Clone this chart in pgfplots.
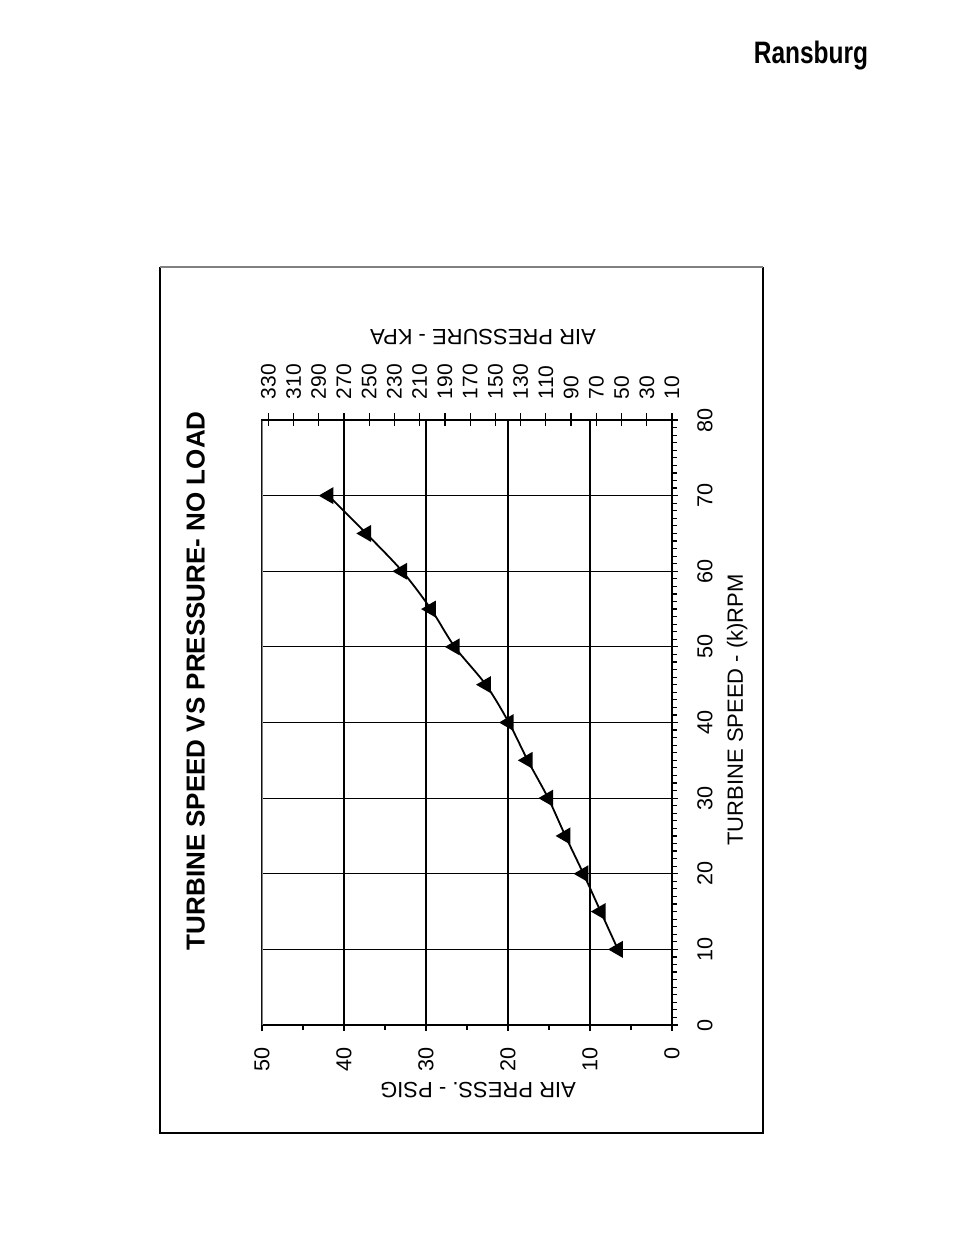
\documentclass[border=0pt]{standalone}
\usepackage{pgfplots}
\pgfplotsset{compat=1.18}
\usepackage{fontspec}
\setmainfont{Liberation Sans}
\usepackage{graphicx}

% picture coordinates are in points; 1pt = 2 pixels of the reference
\begin{document}
\begin{tikzpicture}
\path[use as bounding box] (0pt,0pt) rectangle (477pt,617.5pt);
% page frame round the chart
\draw[line width=1.1pt] (80pt,484pt) -- (80pt,51pt) -- (381.5pt,51pt) -- (381.5pt,484pt);
\draw[gray, line width=0.7pt] (80pt,484pt) -- (381.5pt,484pt);
\node[anchor=base] at (405.5pt,585.8pt) {\fontsize{15.5}{18}\selectfont\bfseries\scalebox{0.79}[1]{Ransburg}};

% main axis: air pressure (psig) across, turbine speed up
\begin{axis}[
    at={(131pt,105pt)}, anchor=south west,
    scale only axis, width=205pt, height=302.5pt,
    xmin=0, xmax=50, ymin=0, ymax=80,
    x dir=reverse,
    xtick={0,10,...,50}, minor xtick={5,15,...,45},
    ytick={0,10,...,80}, minor ytick={0,1,...,80},
    xtick pos=bottom, xticklabel pos=bottom,
    ytick pos=right, yticklabel pos=right,
    tick align=outside,
    major tick length=3pt, minor tick length=2.4pt,
    grid=major, grid style={black, line width=0.55pt},
    axis line style={line width=0.75pt},
    every tick/.style={black, line width=0.6pt},
    /pgf/number format/assume math mode=true,
    tick label style={font=\fontsize{10.8}{12}\selectfont, inner sep=0pt},
    xticklabel style={rotate=90, anchor=east},
    yticklabel style={rotate=90, anchor=north},
    xticklabel shift=8pt, yticklabel shift=9.5pt,
    xlabel={AIR PRESS. - PSIG},
    every axis x label/.style={at={(axis description cs:0.527,-0.107)}, rotate=180, anchor=center, font=\fontsize{11}{13}\selectfont},
    ylabel={TURBINE SPEED - (k)RPM},
    every axis y label/.style={at={(axis description cs:1.159,0.521)}, rotate=90, anchor=center, font=\fontsize{11}{13}\selectfont},
    title={TURBINE SPEED VS PRESSURE- NO LOAD},
    every axis title/.style={at={(axis description cs:-0.162,0.569)}, rotate=90, anchor=center, font=\fontsize{13}{15}\selectfont\bfseries},
    ]
    \addplot[black, line width=0.9pt, smooth, tension=0.5,
        mark=triangle*, mark size=4pt, mark options={rotate=90, solid, fill=black}]
    coordinates {
    (6.6,10) (8.7,15) (10.8,20) (13.0,25) (15.1,30) (17.6,35) (19.9,40)
    (22.7,45) (26.5,50) (29.4,55) (32.9,60) (37.3,65) (41.9,70)
    };
    \draw[gray, line width=0.9pt] (axis cs:50,0) -- (axis cs:50,80);
\end{axis}

% secondary scale: air pressure in kPa along the top
\begin{axis}[
    at={(131pt,105pt)}, anchor=south west,
    scale only axis, width=205pt, height=302.5pt,
    xmin=10, xmax=335, ymin=0, ymax=1,
    x dir=reverse,
    axis x line*=top, axis y line=none,
    xtick={10,30,...,330},
    tick align=center, major tick length=6.5pt,
    axis line style={line width=0.75pt},
    every tick/.style={black, line width=0.6pt},
    /pgf/number format/assume math mode=true,
    xticklabel style={rotate=90, anchor=west, inner sep=0pt, font=\fontsize{10.5}{12}\selectfont},
    xticklabel shift=7pt,
    xlabel={AIR PRESSURE - KPA},
    every axis x label/.style={at={(axis description cs:0.539,1.137)}, rotate=180, anchor=center, font=\fontsize{11}{13}\selectfont},
    ]
    \addplot[draw=none] coordinates {(10,0)};
\end{axis}
\end{tikzpicture}
\end{document}
